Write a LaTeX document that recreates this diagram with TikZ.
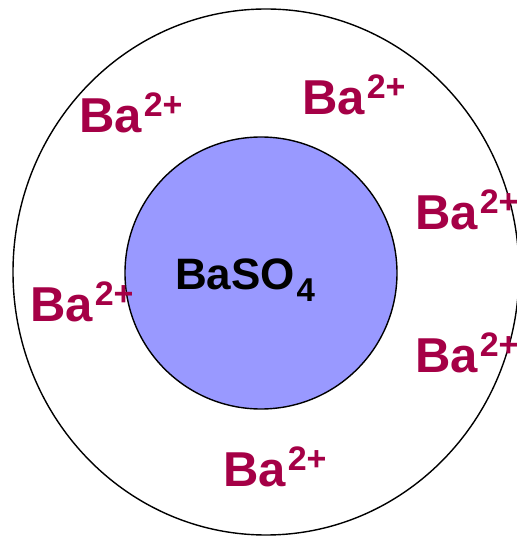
\documentclass[tikz,border=0pt]{standalone}
\usepackage{fontspec}
\setmainfont{Liberation Sans}
\usepackage{tikz}

\definecolor{ioncol}{RGB}{165,0,70}
\definecolor{solidcol}{RGB}{153,153,255}

\newcommand{\baion}{Ba\kern2pt\raisebox{16pt}{\fontsize{34}{34}\selectfont 2+}}

\begin{document}
\begin{tikzpicture}[
        x=1pt, y=1pt,
        ion/.style={
            anchor=base west,
            inner sep=0pt,
            text=ioncol,
            font=\fontsize{49}{49}\selectfont\bfseries
        },
        solid/.style={
            anchor=base west,
            inner sep=0pt,
            font=\fontsize{44}{44}\selectfont\bfseries
        },
        rim/.style={
            draw,
            line width=1.4pt
        }
    ]

        \useasboundingbox (0,0) rectangle (517,536);

        % Shells
        \draw[rim] (266,264) ellipse [x radius=253, y radius=263];
        \draw[rim, fill=solidcol] (261,263) circle [radius=136];

        % Precipitate
        \node[solid] (baso) at (175,246) {BaSO\kern1.5pt\raisebox{-12pt}{\fontsize{33}{33}\selectfont 4}};

        % Barium ions around it
        \node[ion] (ionA) at (79,403) {\baion};
        \node[ion] (ionB) at (302,421) {\baion};
        \node[ion] (ionC) at (415,306) {\baion};
        \node[ion] (ionD) at (415,163) {\baion};
        \node[ion] (ionE) at (30,214) {\baion};
        \node[ion] (ionF) at (223,49) {\baion};

    \end{tikzpicture}
\end{document}
